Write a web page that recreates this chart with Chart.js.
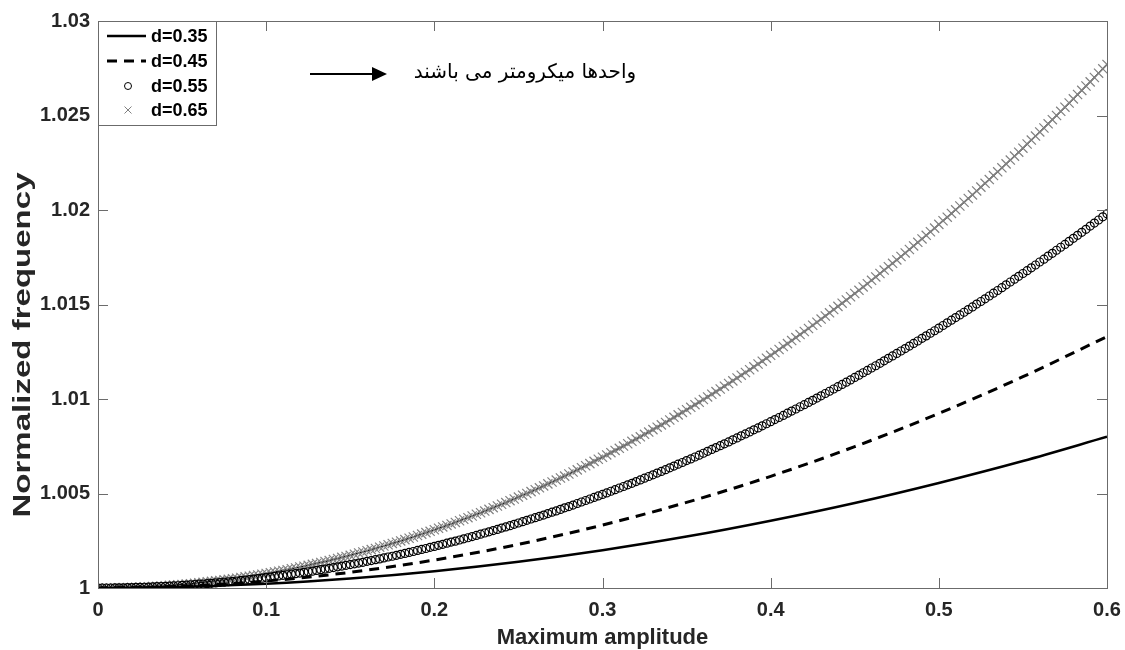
<!DOCTYPE html>
<html>
<head>
<meta charset="utf-8">
<script src="https://cdn.jsdelivr.net/npm/chart.js@4"></script>
<style>
  body { margin: 0; background: #fff; }
  #wrap { width: 1125px; height: 650px; }
</style>
</head>
<body>
<div id="wrap"><canvas id="freq-chart"></canvas></div>
<script>
// amplitude samples for the marker curves (d=0.55, d=0.65)
const ampFine = [
  0, 0.0025, 0.005, 0.0075, 0.01, 0.0125, 0.015, 0.0175, 0.02, 0.0225, 0.025, 0.0275, 0.03, 0.0325, 0.035, 0.0375, 0.04, 0.0425, 0.045, 0.0475,
  0.05, 0.0525, 0.055, 0.0575, 0.06, 0.0625, 0.065, 0.0675, 0.07, 0.0725, 0.075, 0.0775, 0.08, 0.0825, 0.085, 0.0875, 0.09, 0.0925, 0.095, 0.0975,
  0.1, 0.1025, 0.105, 0.1075, 0.11, 0.1125, 0.115, 0.1175, 0.12, 0.1225, 0.125, 0.1275, 0.13, 0.1325, 0.135, 0.1375, 0.14, 0.1425, 0.145, 0.1475,
  0.15, 0.1525, 0.155, 0.1575, 0.16, 0.1625, 0.165, 0.1675, 0.17, 0.1725, 0.175, 0.1775, 0.18, 0.1825, 0.185, 0.1875, 0.19, 0.1925, 0.195, 0.1975,
  0.2, 0.2025, 0.205, 0.2075, 0.21, 0.2125, 0.215, 0.2175, 0.22, 0.2225, 0.225, 0.2275, 0.23, 0.2325, 0.235, 0.2375, 0.24, 0.2425, 0.245, 0.2475,
  0.25, 0.2525, 0.255, 0.2575, 0.26, 0.2625, 0.265, 0.2675, 0.27, 0.2725, 0.275, 0.2775, 0.28, 0.2825, 0.285, 0.2875, 0.29, 0.2925, 0.295, 0.2975,
  0.3, 0.3025, 0.305, 0.3075, 0.31, 0.3125, 0.315, 0.3175, 0.32, 0.3225, 0.325, 0.3275, 0.33, 0.3325, 0.335, 0.3375, 0.34, 0.3425, 0.345, 0.3475,
  0.35, 0.3525, 0.355, 0.3575, 0.36, 0.3625, 0.365, 0.3675, 0.37, 0.3725, 0.375, 0.3775, 0.38, 0.3825, 0.385, 0.3875, 0.39, 0.3925, 0.395, 0.3975,
  0.4, 0.4025, 0.405, 0.4075, 0.41, 0.4125, 0.415, 0.4175, 0.42, 0.4225, 0.425, 0.4275, 0.43, 0.4325, 0.435, 0.4375, 0.44, 0.4425, 0.445, 0.4475,
  0.45, 0.4525, 0.455, 0.4575, 0.46, 0.4625, 0.465, 0.4675, 0.47, 0.4725, 0.475, 0.4775, 0.48, 0.4825, 0.485, 0.4875, 0.49, 0.4925, 0.495, 0.4975,
  0.5, 0.5025, 0.505, 0.5075, 0.51, 0.5125, 0.515, 0.5175, 0.52, 0.5225, 0.525, 0.5275, 0.53, 0.5325, 0.535, 0.5375, 0.54, 0.5425, 0.545, 0.5475,
  0.55, 0.5525, 0.555, 0.5575, 0.56, 0.5625, 0.565, 0.5675, 0.57, 0.5725, 0.575, 0.5775, 0.58, 0.5825, 0.585, 0.5875, 0.59, 0.5925, 0.595, 0.5975,
  0.6];

// amplitude samples for the plain line curves (d=0.35, d=0.45)
const ampCoarse = [0, 0.05, 0.1, 0.15, 0.2, 0.25, 0.3, 0.35, 0.4, 0.45, 0.5, 0.55, 0.6];

const freqD035 = [1, 1.00006, 1.00022, 1.00050, 1.00089, 1.00139, 1.00200, 1.00272, 1.00356, 1.00450, 1.00556, 1.00672, 1.00800];
const freqD045 = [1, 1.00009, 1.00037, 1.00083, 1.00148, 1.00231, 1.00333, 1.00453, 1.00591, 1.00748, 1.00924, 1.01118, 1.01330];

const freqD055 = [
  1.00000, 1.00000, 1.00000, 1.00000, 1.00001, 1.00001, 1.00001, 1.00002, 1.00002, 1.00003, 1.00003, 1.00004, 1.00005, 1.00006, 1.00007, 1.00008, 1.00009, 1.00010, 1.00011, 1.00012,
  1.00014, 1.00015, 1.00017, 1.00018, 1.00020, 1.00021, 1.00023, 1.00025, 1.00027, 1.00029, 1.00031, 1.00033, 1.00035, 1.00037, 1.00040, 1.00042, 1.00045, 1.00047, 1.00050, 1.00052,
  1.00055, 1.00058, 1.00061, 1.00064, 1.00067, 1.00070, 1.00073, 1.00076, 1.00079, 1.00083, 1.00086, 1.00089, 1.00093, 1.00097, 1.00100, 1.00104, 1.00108, 1.00112, 1.00116, 1.00120,
  1.00124, 1.00128, 1.00132, 1.00136, 1.00141, 1.00145, 1.00150, 1.00154, 1.00159, 1.00164, 1.00168, 1.00173, 1.00178, 1.00183, 1.00188, 1.00193, 1.00199, 1.00204, 1.00209, 1.00215,
  1.00220, 1.00226, 1.00231, 1.00237, 1.00243, 1.00248, 1.00254, 1.00260, 1.00266, 1.00272, 1.00278, 1.00285, 1.00291, 1.00297, 1.00304, 1.00310, 1.00317, 1.00323, 1.00330, 1.00337,
  1.00344, 1.00351, 1.00358, 1.00365, 1.00372, 1.00379, 1.00386, 1.00394, 1.00401, 1.00408, 1.00416, 1.00424, 1.00431, 1.00439, 1.00447, 1.00455, 1.00463, 1.00471, 1.00479, 1.00487,
  1.00495, 1.00503, 1.00512, 1.00520, 1.00529, 1.00537, 1.00546, 1.00554, 1.00563, 1.00572, 1.00581, 1.00590, 1.00599, 1.00608, 1.00617, 1.00626, 1.00636, 1.00645, 1.00655, 1.00664,
  1.00674, 1.00683, 1.00693, 1.00703, 1.00713, 1.00723, 1.00733, 1.00743, 1.00753, 1.00763, 1.00773, 1.00784, 1.00794, 1.00805, 1.00815, 1.00826, 1.00837, 1.00847, 1.00858, 1.00869,
  1.00880, 1.00891, 1.00902, 1.00913, 1.00925, 1.00936, 1.00947, 1.00959, 1.00970, 1.00982, 1.00993, 1.01005, 1.01017, 1.01029, 1.01041, 1.01053, 1.01065, 1.01077, 1.01089, 1.01101,
  1.01114, 1.01126, 1.01139, 1.01151, 1.01164, 1.01176, 1.01189, 1.01202, 1.01215, 1.01228, 1.01241, 1.01254, 1.01267, 1.01280, 1.01294, 1.01307, 1.01321, 1.01334, 1.01348, 1.01361,
  1.01375, 1.01389, 1.01403, 1.01417, 1.01431, 1.01445, 1.01459, 1.01473, 1.01487, 1.01502, 1.01516, 1.01530, 1.01545, 1.01560, 1.01574, 1.01589, 1.01604, 1.01619, 1.01634, 1.01649,
  1.01664, 1.01679, 1.01694, 1.01709, 1.01725, 1.01740, 1.01756, 1.01771, 1.01787, 1.01803, 1.01818, 1.01834, 1.01850, 1.01866, 1.01882, 1.01898, 1.01915, 1.01931, 1.01947, 1.01964,
  1.01980];

const freqD065 = [
  1.00000, 1.00000, 1.00000, 1.00000, 1.00001, 1.00001, 1.00002, 1.00002, 1.00003, 1.00004, 1.00005, 1.00006, 1.00007, 1.00008, 1.00009, 1.00011, 1.00012, 1.00014, 1.00016, 1.00017,
  1.00019, 1.00021, 1.00023, 1.00025, 1.00028, 1.00030, 1.00033, 1.00035, 1.00038, 1.00040, 1.00043, 1.00046, 1.00049, 1.00052, 1.00056, 1.00059, 1.00062, 1.00066, 1.00069, 1.00073,
  1.00077, 1.00081, 1.00085, 1.00089, 1.00093, 1.00097, 1.00102, 1.00106, 1.00111, 1.00115, 1.00120, 1.00125, 1.00130, 1.00135, 1.00140, 1.00145, 1.00151, 1.00156, 1.00162, 1.00167,
  1.00173, 1.00179, 1.00185, 1.00191, 1.00197, 1.00203, 1.00209, 1.00216, 1.00222, 1.00229, 1.00236, 1.00242, 1.00249, 1.00256, 1.00263, 1.00270, 1.00278, 1.00285, 1.00293, 1.00300,
  1.00308, 1.00316, 1.00323, 1.00331, 1.00339, 1.00347, 1.00356, 1.00364, 1.00372, 1.00381, 1.00390, 1.00398, 1.00407, 1.00416, 1.00425, 1.00434, 1.00443, 1.00452, 1.00462, 1.00471,
  1.00481, 1.00491, 1.00500, 1.00510, 1.00520, 1.00530, 1.00540, 1.00551, 1.00561, 1.00571, 1.00582, 1.00592, 1.00603, 1.00614, 1.00625, 1.00636, 1.00647, 1.00658, 1.00670, 1.00681,
  1.00692, 1.00704, 1.00716, 1.00728, 1.00739, 1.00751, 1.00763, 1.00776, 1.00788, 1.00800, 1.00813, 1.00825, 1.00838, 1.00851, 1.00863, 1.00876, 1.00889, 1.00903, 1.00916, 1.00929,
  1.00943, 1.00956, 1.00970, 1.00983, 1.00997, 1.01011, 1.01025, 1.01039, 1.01053, 1.01068, 1.01082, 1.01096, 1.01111, 1.01126, 1.01140, 1.01155, 1.01170, 1.01185, 1.01200, 1.01216,
  1.01231, 1.01246, 1.01262, 1.01278, 1.01293, 1.01309, 1.01325, 1.01341, 1.01357, 1.01373, 1.01390, 1.01406, 1.01423, 1.01439, 1.01456, 1.01473, 1.01490, 1.01507, 1.01524, 1.01541,
  1.01558, 1.01575, 1.01593, 1.01610, 1.01628, 1.01646, 1.01664, 1.01682, 1.01700, 1.01718, 1.01736, 1.01754, 1.01773, 1.01791, 1.01810, 1.01829, 1.01847, 1.01866, 1.01885, 1.01904,
  1.01924, 1.01943, 1.01962, 1.01982, 1.02001, 1.02021, 1.02041, 1.02061, 1.02080, 1.02101, 1.02121, 1.02141, 1.02161, 1.02182, 1.02202, 1.02223, 1.02244, 1.02264, 1.02285, 1.02306,
  1.02327, 1.02349, 1.02370, 1.02391, 1.02413, 1.02434, 1.02456, 1.02478, 1.02500, 1.02522, 1.02544, 1.02566, 1.02588, 1.02611, 1.02633, 1.02656, 1.02678, 1.02701, 1.02724, 1.02747,
  1.02770];

const seriesLabels = ['d=0.35', 'd=0.45', 'd=0.55', 'd=0.65'];
const xTicks = [0, 0.1, 0.2, 0.3, 0.4, 0.5, 0.6];
const yTicks = [1, 1.005, 1.01, 1.015, 1.02, 1.025, 1.03];
const xTitle = 'Maximum amplitude';
const yTitle = 'Normalized frequency';
const noteText = 'واحدها میکرومتر می باشند';

const AXIS_COLOR = '#262626';
const FRAME_COLOR = '#6b6b6b';

function toPoints(xs, ys) {
  return xs.map((x, i) => ({ x: x, y: ys[i] }));
}

function trimLabel(v) {
  return String(parseFloat(v.toFixed(3)));
}

// box, inward ticks on all four sides, titles, legend and the note arrow
const decorations = {
  id: 'decorations',
  afterDraw(chart) {
    const ctx = chart.ctx;
    const area = chart.chartArea;
    const xs = chart.scales.x;
    const ys = chart.scales.y;
    const tick = 10;

    ctx.save();
    ctx.strokeStyle = FRAME_COLOR;
    ctx.lineWidth = 1;
    ctx.beginPath();
    xTicks.forEach(v => {
      const px = Math.round(xs.getPixelForValue(v)) + 0.5;
      ctx.moveTo(px, area.bottom); ctx.lineTo(px, area.bottom - tick);
      ctx.moveTo(px, area.top); ctx.lineTo(px, area.top + tick);
    });
    yTicks.forEach(v => {
      const py = Math.round(ys.getPixelForValue(v)) + 0.5;
      ctx.moveTo(area.left, py); ctx.lineTo(area.left + tick, py);
      ctx.moveTo(area.right, py); ctx.lineTo(area.right - tick, py);
    });
    ctx.stroke();
    ctx.strokeRect(Math.round(area.left) + 0.5, Math.round(area.top) + 0.5,
      Math.round(area.right - area.left), Math.round(area.bottom - area.top));

    // axis titles
    ctx.fillStyle = AXIS_COLOR;
    ctx.font = 'bold 22px "Liberation Sans", Arial, sans-serif';
    ctx.textAlign = 'center';
    ctx.textBaseline = 'alphabetic';
    ctx.fillText(xTitle, (area.left + area.right) / 2, 644);

    ctx.save();
    ctx.font = 'bold 23px "Liberation Sans", Arial, sans-serif';
    const w = ctx.measureText(yTitle).width;
    ctx.translate(30, 345);
    ctx.rotate(-Math.PI / 2);
    ctx.scale(345 / w, 1);
    ctx.fillText(yTitle, 0, 0);
    ctx.restore();

    // legend box
    const lx = area.left, ly = area.top, lw = 118, lh = 104;
    ctx.fillStyle = '#fff';
    ctx.fillRect(lx, ly, lw, lh);
    ctx.strokeStyle = FRAME_COLOR;
    ctx.strokeRect(Math.round(lx) + 0.5, Math.round(ly) + 0.5, lw, lh);
    const rows = [15, 40, 65, 89];
    chart.data.datasets.forEach((ds, i) => {
      const y = ly + rows[i];
      const mx = lx + 30;
      ctx.save();
      if (i < 2) {
        ctx.strokeStyle = ds.borderColor;
        ctx.lineWidth = ds.borderWidth;
        ctx.setLineDash(ds.borderDash || []);
        ctx.beginPath();
        ctx.moveTo(lx + 9, y);
        ctx.lineTo(lx + 48, y);
        ctx.stroke();
      } else {
        ctx.strokeStyle = ds.pointBorderColor;
        ctx.lineWidth = 1;
        ctx.beginPath();
        if (ds.pointStyle === 'circle') {
          ctx.arc(mx, y, 3.5, 0, Math.PI * 2);
        } else {
          const r = 3.5;
          ctx.moveTo(mx - r, y - r); ctx.lineTo(mx + r, y + r);
          ctx.moveTo(mx - r, y + r); ctx.lineTo(mx + r, y - r);
        }
        ctx.stroke();
      }
      ctx.restore();
      ctx.fillStyle = '#000';
      ctx.font = 'bold 18px "Liberation Sans", Arial, sans-serif';
      ctx.textAlign = 'left';
      ctx.textBaseline = 'middle';
      ctx.fillText(ds.label, lx + 53, y + 1);
    });

    // arrow and note
    const ay = 74;
    ctx.strokeStyle = '#000';
    ctx.fillStyle = '#000';
    ctx.lineWidth = 2;
    ctx.beginPath();
    ctx.moveTo(310, ay); ctx.lineTo(374, ay);
    ctx.stroke();
    ctx.beginPath();
    ctx.moveTo(387, ay); ctx.lineTo(372, ay - 7); ctx.lineTo(372, ay + 7);
    ctx.closePath();
    ctx.fill();
    ctx.font = '20px "DejaVu Sans", sans-serif';
    ctx.textAlign = 'center';
    ctx.textBaseline = 'middle';
    ctx.direction = 'rtl';
    ctx.fillText(noteText, 525, 73, 226);
    ctx.restore();
  }
};

new Chart(document.getElementById('freq-chart'), {
  type: 'scatter',
  data: {
    datasets: [
      {
        label: seriesLabels[0],
        data: toPoints(ampCoarse, freqD035),
        showLine: true,
        borderColor: '#000',
        borderWidth: 2.5,
        pointRadius: 0,
        cubicInterpolationMode: 'monotone'
      },
      {
        label: seriesLabels[1],
        data: toPoints(ampCoarse, freqD045),
        showLine: true,
        borderColor: '#000',
        borderWidth: 3,
        borderDash: [10, 7],
        pointRadius: 0,
        cubicInterpolationMode: 'monotone'
      },
      {
        label: seriesLabels[2],
        data: toPoints(ampFine, freqD055),
        showLine: false,
        pointStyle: 'circle',
        pointRadius: 4,
        pointBorderWidth: 1.2,
        pointBorderColor: '#000',
        pointBackgroundColor: 'rgba(0,0,0,0)'
      },
      {
        label: seriesLabels[3],
        data: toPoints(ampFine, freqD065),
        showLine: true,
        borderColor: '#000',
        borderWidth: 1.3,
        pointStyle: 'crossRot',
        pointRadius: 6.5,
        pointBorderWidth: 1.2,
        pointBorderColor: '#808080',
        pointBackgroundColor: '#808080'
      }
    ]
  },
  options: {
    responsive: true,
    maintainAspectRatio: false,
    animation: false,
    devicePixelRatio: 1,
    layout: { padding: { left: 0, top: 21, right: 18, bottom: 0 } },
    plugins: {
      legend: { display: false },
      tooltip: { enabled: false }
    },
    scales: {
      x: {
        type: 'linear',
        min: 0,
        max: 0.6,
        grid: { display: false, drawTicks: false },
        border: { display: false },
        afterFit: (scale) => {
          scale.height = 62;
          scale.paddingLeft = 0;
          scale.paddingRight = 0;
        },
        afterBuildTicks: (scale) => { scale.ticks = xTicks.map(v => ({ value: v })); },
        ticks: {
          padding: 10,
          color: AXIS_COLOR,
          font: { family: '"Liberation Sans", Arial, sans-serif', weight: 'bold', size: 20 },
          maxRotation: 0,
          callback: (v) => trimLabel(v)
        }
      },
      y: {
        type: 'linear',
        min: 1,
        max: 1.03,
        grid: { display: false, drawTicks: false },
        border: { display: false },
        afterFit: (scale) => { scale.width = 98; },
        afterBuildTicks: (scale) => { scale.ticks = yTicks.map(v => ({ value: v })); },
        ticks: {
          padding: 8,
          color: AXIS_COLOR,
          font: { family: '"Liberation Sans", Arial, sans-serif', weight: 'bold', size: 20 },
          callback: (v) => trimLabel(v)
        }
      }
    }
  },
  plugins: [decorations]
});
</script>
</body>
</html>
